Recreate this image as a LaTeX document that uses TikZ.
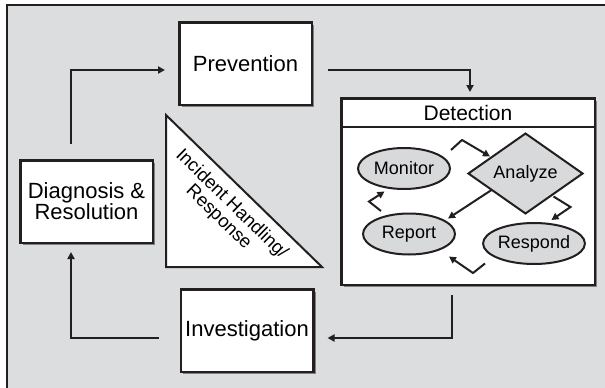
\documentclass[tikz,border=0pt]{standalone}
\usepackage{fontspec}
\setmainfont{Liberation Sans}
\usetikzlibrary{arrows.meta}
\usetikzlibrary{calc}
\usetikzlibrary{shapes}
\usetikzlibrary{shadows}
\definecolor{hatter}{HTML}{DCDDDF}
\definecolor{vonal}{HTML}{231F20}
\definecolor{kitolt}{HTML}{D8D9DB}

\begin{document}
\begin{tikzpicture}[x=1pt,y=-1pt,>={Stealth[inset=0pt,length=7pt,width=7pt]},
fazis/.style={rectangle,line width=2.5pt,draw=vonal,fill=white,inner sep=0pt,
minimum width=132.5pt,minimum height=82.5pt,align=center,font=\fontsize{22}{21}\selectfont,
drop shadow={shadow xshift=2.5pt,shadow yshift=-2.5pt,fill=black!50,opacity=1}},
lepes/.style={ellipse,line width=2pt,draw=vonal,fill=kitolt,inner sep=0pt,
minimum width=92pt,minimum height=41pt,font=\fontsize{18}{20}\selectfont}]

\useasboundingbox (0,0) rectangle (605,388);
\clip (0,0) rectangle (605,388);
\draw[line width=2.5pt,draw=vonal,fill=hatter] (7,5) rectangle (640,420);

\node[fazis](prevention) at (245.5,63.5){Prevention};

\node[fazis](diagnosis) at (86.5,201.5){Diagnosis \&\\Resolution};

\node[fazis](investigation) at (247,330.5){Investigation};

\node[fazis, minimum width=253.5pt, minimum height=186.5pt](detection) at (468,191.5){};
\draw[line width=2pt,draw=vonal] ([yshift=-30pt]detection.north west)--([yshift=-30pt]detection.north east);
\node[font=\fontsize{21}{24}\selectfont](dettitle) at (468,113){Detection};

\draw[line width=2pt,draw=vonal,fill=white] (166,115)--(166,267)--(322,267)--cycle;
\node[rotate=-44.3, align=center, font=\fontsize{18.5}{18.5}\selectfont](handling) at (225,211)
{Incident Handling/\\Response};

\node[lepes](monitor) at (404,168.5){Monitor};
\node[lepes](report) at (409,234){Report};
\node[lepes, minimum width=96pt](respond) at (534,243.5){Respond};
\node[diamond, line width=2pt, draw=vonal, fill=kitolt, inner sep=0pt, minimum width=115pt,
minimum height=53pt, font=\fontsize{18}{20}\selectfont](analyze) at (525.5,173.5){Analyze};

\begin{scope}[->, line width=2pt, draw=vonal]
\draw ($(diagnosis.north)+(-15.5,-15)$) |- ($(prevention.west)+(-13,6.5)$);
\draw ($(prevention.east)+(15,6.5)$) -| ($(detection.north)+(2,-5)$);
\draw ($(detection.south)+(-16,9)$) |- ($(investigation.east)+(13,7.5)$);
\draw ($(investigation.west)+(-21,7.5)$) -| ($(diagnosis.south)+(-15.5,8)$);

\draw ($(monitor)+(47,-18.5)$) -- ++(11,-10) -- ($(analyze)+(-35.5,-17)$);
\draw ($(analyze)+(28,23)$) -- ++(17,10.5) -- ($(respond)+(17.5,-23.5)$);
\draw ($(respond)+(-49,20)$) -- ++(-12,9.5) -- ($(report)+(40,22.5)$);
\draw ($(report)+(-28,-23)$) -- ++(-12,-9.5) -- ($(monitor)+(-19.5,23)$);
\draw ($(analyze)+(-34,16.5)$) -- ($(report)+(39,-15.5)$);
\end{scope}

\end{tikzpicture}
\end{document}
